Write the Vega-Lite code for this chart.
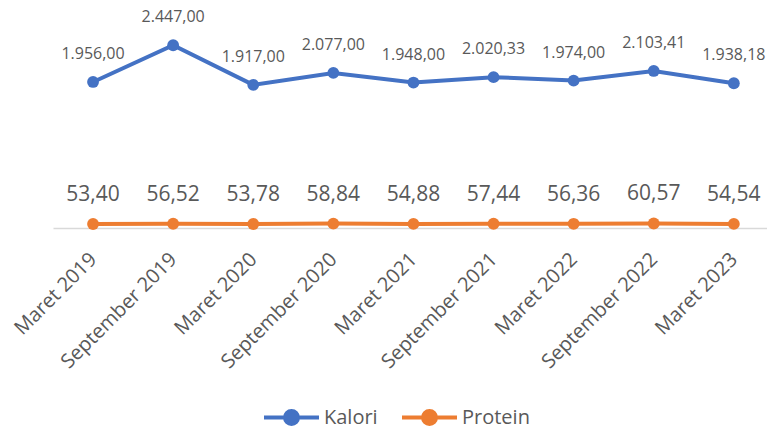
{
  "$schema": "https://vega.github.io/schema/vega-lite/v6.json",
  "autosize": {"type": "none"},
  "padding": {"left": 53, "top": 4, "right": 0, "bottom": 202},
  "width": 714,
  "height": 224,
  "config": {"view": {"stroke": null}, "font": "Open Sans"},
  "data": {
    "values": [
      {"period": "Maret 2019", "series": "Kalori", "value": 1956.00, "label": "1.956,00"},
      {"period": "September 2019", "series": "Kalori", "value": 2447.00, "label": "2.447,00"},
      {"period": "Maret 2020", "series": "Kalori", "value": 1917.00, "label": "1.917,00"},
      {"period": "September 2020", "series": "Kalori", "value": 2077.00, "label": "2.077,00"},
      {"period": "Maret 2021", "series": "Kalori", "value": 1948.00, "label": "1.948,00"},
      {"period": "September 2021", "series": "Kalori", "value": 2020.33, "label": "2.020,33"},
      {"period": "Maret 2022", "series": "Kalori", "value": 1974.00, "label": "1.974,00"},
      {"period": "September 2022", "series": "Kalori", "value": 2103.41, "label": "2.103,41"},
      {"period": "Maret 2023", "series": "Kalori", "value": 1938.18, "label": "1.938,18"},
      {"period": "Maret 2019", "series": "Protein", "value": 53.40, "label": "53,40"},
      {"period": "September 2019", "series": "Protein", "value": 56.52, "label": "56,52"},
      {"period": "Maret 2020", "series": "Protein", "value": 53.78, "label": "53,78"},
      {"period": "September 2020", "series": "Protein", "value": 58.84, "label": "58,84"},
      {"period": "Maret 2021", "series": "Protein", "value": 54.88, "label": "54,88"},
      {"period": "September 2021", "series": "Protein", "value": 57.44, "label": "57,44"},
      {"period": "Maret 2022", "series": "Protein", "value": 56.36, "label": "56,36"},
      {"period": "September 2022", "series": "Protein", "value": 60.57, "label": "60,57"},
      {"period": "Maret 2023", "series": "Protein", "value": 54.54, "label": "54,54"}
    ]
  },
  "encoding": {
    "x": {
      "field": "period",
      "type": "ordinal",
      "sort": ["Maret 2019", "September 2019", "Maret 2020", "September 2020", "Maret 2021", "September 2021", "Maret 2022", "September 2022", "Maret 2023"],
      "scale": {"type": "point", "padding": 0.457, "align": 0.547},
      "axis": {
        "title": null,
        "labelAngle": -45,
        "labelAlign": "right",
        "labelBaseline": "middle",
        "labelFontSize": 20,
        "labelColor": "#595959",
        "labelPadding": 28,
        "ticks": false,
        "grid": false,
        "domainColor": "#D9D9D9",
        "domainWidth": 1.5
      }
    },
    "y": {
      "field": "value",
      "type": "quantitative",
      "scale": {"domain": [0, 3000]},
      "axis": null
    }
  },
  "layer": [
    {
      "mark": {"type": "line", "strokeWidth": 4},
      "encoding": {
        "color": {
          "field": "series",
          "type": "nominal",
          "scale": {"domain": ["Kalori", "Protein"], "range": ["#4472C4", "#ED7D31"]},
          "legend": {
            "orient": "none",
            "legendX": 209,
            "legendY": 384,
            "direction": "horizontal",
            "title": null,
            "symbolType": "M-1,0L1,0M0.236,0A0.236,0.236,0,1,1,-0.236,0A0.236,0.236,0,1,1,0.236,0Z",
            "symbolSize": 3025,
            "symbolStrokeWidth": 4,
            "labelFontSize": 20,
            "labelColor": "#595959",
            "labelOffset": 3,
            "columnPadding": 16,
            "encode": {
              "symbols": {
                "update": {
                  "fill": {"scale": "color", "field": "value"},
                  "stroke": {"scale": "color", "field": "value"},
                  "opacity": {"value": 1}
                }
              }
            }
          }
        }
      }
    },
    {
      "mark": {"type": "point", "filled": true, "size": 140, "opacity": 1},
      "encoding": {"color": {"field": "series", "type": "nominal"}}
    },
    {
      "transform": [{"filter": "datum.series === 'Kalori'"}],
      "mark": {"type": "text", "baseline": "alphabetic", "dy": -23, "fontSize": 16, "color": "#595959"},
      "encoding": {"text": {"field": "label"}}
    },
    {
      "transform": [{"filter": "datum.series === 'Protein'"}],
      "mark": {"type": "text", "baseline": "alphabetic", "dy": -23, "fontSize": 21, "color": "#595959"},
      "encoding": {"text": {"field": "label"}}
    }
  ]
}
